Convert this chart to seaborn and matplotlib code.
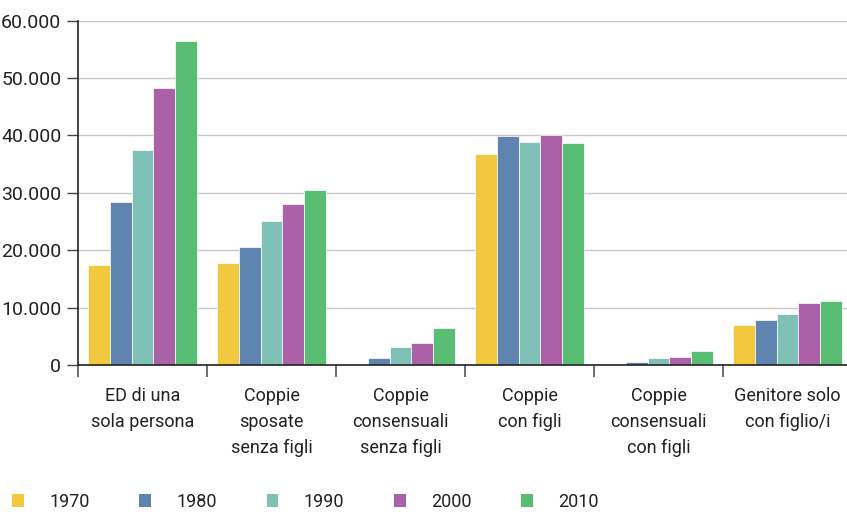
import numpy as np
import pandas as pd
import seaborn as sns
import matplotlib.pyplot as plt
from matplotlib.patches import Patch
from matplotlib.ticker import FuncFormatter, FixedLocator

# ---------------------
# data
# ---------------------
categories = ["ED di una\nsola persona", "Coppie\nsposate\nsenza figli",
              "Coppie\nconsensuali\nsenza figli", "Coppie\ncon figli",
              "Coppie\nconsensuali\ncon figli", "Genitore solo\ncon figlio/i"]
years = ["1970", "1980", "1990", "2000", "2010"]

v1970 = [17500, 17800, 0, 36800, 0, 7000]
v1980 = [28400, 20600, 1300, 39900, 600, 7900]
v1990 = [37400, 25100, 3200, 38900, 1200, 8900]
v2000 = [48300, 28100, 3800, 40000, 1400, 10800]
v2010 = [56400, 30500, 6500, 38600, 2500, 11100]

colors = ["#F2C83F", "#5F84B0", "#7FC0B7", "#AB61A7", "#59BE73"]

rows = []
for yr, vals in zip(years, [v1970, v1980, v1990, v2000, v2010]):
    for cat, v in zip(categories, vals):
        rows.append({"categoria": cat, "anno": yr, "valore": v})
df = pd.DataFrame(rows)

# ---------------------
# plot
# ---------------------
sns.set_theme(style="white")
plt.rcParams["font.family"] = ["Roboto", "DejaVu Sans"]

fig = plt.figure(figsize=(8.47, 5.14), dpi=100)
ax = fig.add_axes([78 / 847, 149 / 514, 774 / 847, 344.5 / 514])

sns.barplot(data=df, x="categoria", y="valore", hue="anno", palette=colors,
            saturation=1, width=0.85, edgecolor="white", linewidth=0.5,
            ax=ax, legend=False)

ax.set_ylim(0, 60000)
ax.set_xlim(-0.5, 5.5)
ax.set_yticks(np.arange(0, 60001, 10000))
ax.yaxis.set_major_formatter(FuncFormatter(lambda v, p: f"{int(v):,}".replace(",", ".")))
ax.grid(axis="y", color="#c8c8c8", linewidth=1)
ax.set_axisbelow(True)

for s in ["top", "right"]:
    ax.spines[s].set_visible(False)
for s in ["left", "bottom"]:
    ax.spines[s].set_color("#222222")
    ax.spines[s].set_linewidth(1.2)

ax.tick_params(axis="y", length=8, width=1, color="#444444", labelsize=14,
               pad=4, labelcolor="#222222", left=True)
ax.tick_params(axis="x", which="major", length=0, labelsize=13, pad=15.5,
               labelcolor="#222222")
ax.xaxis.set_minor_locator(FixedLocator(np.arange(-0.5, 5.6, 1)))
ax.tick_params(axis="x", which="minor", length=8.5, width=1.2, color="#555555",
               bottom=True)
for lab in ax.get_xticklabels():
    lab.set_linespacing(1.58)

ax.set_xlabel("")
ax.set_ylabel("")

handles = [Patch(facecolor=c, edgecolor="none") for c in colors]
fig.legend(handles, years, loc="center left", bbox_to_anchor=(12 / 847, 12 / 514),
           ncol=5, frameon=False, fontsize=13, handlelength=0.66, handleheight=0.72,
           handletextpad=1.4, columnspacing=2.75, borderpad=0, borderaxespad=0,
           labelcolor="#222222")

fig.savefig("out.png", dpi=100)
